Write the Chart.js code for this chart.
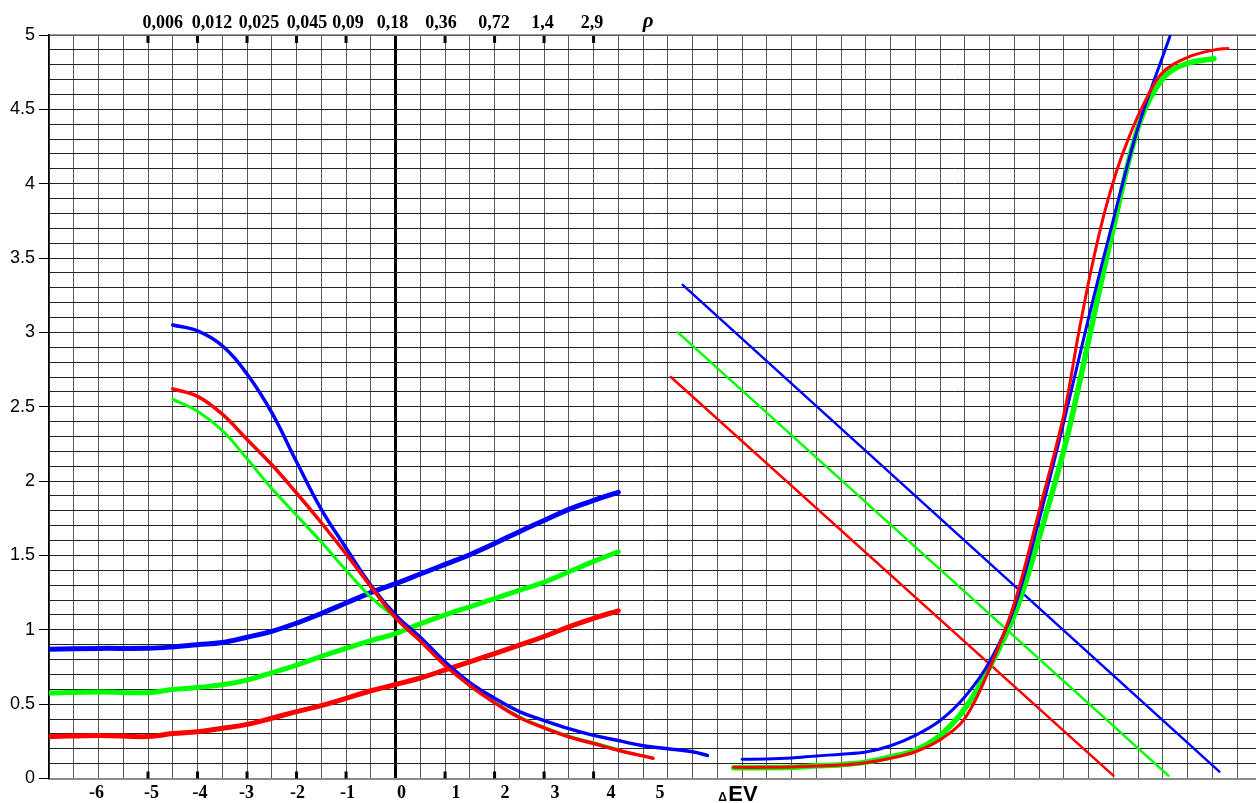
<!DOCTYPE html>
<html>
<head>
<meta charset="utf-8">
<title>ρ / ΔEV</title>
<script src="https://cdn.jsdelivr.net/npm/chart.js@4/dist/chart.umd.min.js"></script>
<style>
  html, body { margin: 0; padding: 0; background: #fff; }
  #wrap { width: 1256px; height: 803px; position: relative; }
</style>
</head>
<body>
<div id="wrap"><canvas id="chart"></canvas></div>
<script>
// --- Data ---

// rising curves (thick), left half
const riseX      = [-7, -6, -5, -4.5, -4, -3.5, -3, -2.5, -2, -1.5, -1, -0.5, 0, 0.5, 1, 1.5, 2, 2.5, 3, 3.5, 4, 4.5];
const blueRiseY  = [0.87, 0.875, 0.876, 0.885, 0.9, 0.915, 0.95, 0.99, 1.045, 1.11, 1.18, 1.25, 1.31, 1.375, 1.44, 1.505, 1.58, 1.66, 1.735, 1.81, 1.87, 1.925];
const greenRiseY = [0.575, 0.582, 0.577, 0.598, 0.612, 0.63, 0.662, 0.711, 0.763, 0.822, 0.875, 0.927, 0.975, 1.04, 1.1, 1.155, 1.21, 1.265, 1.32, 1.39, 1.46, 1.525];
const redRiseY   = [0.281, 0.29, 0.282, 0.302, 0.315, 0.338, 0.364, 0.405, 0.45, 0.49, 0.539, 0.59, 0.632, 0.676, 0.73, 0.785, 0.84, 0.897, 0.955, 1.02, 1.077, 1.128];

// falling curves, left half
const blueFallX  = [-4.5, -4, -3.5, -3, -2.5, -2, -1.5, -1, -0.5, 0, 0.5, 1, 1.5, 2, 2.5, 3, 3.5, 4, 4.5, 5, 5.5, 6, 6.3];
const blueFallY  = [3.05, 3.01, 2.91, 2.72, 2.46, 2.13, 1.81, 1.55, 1.3, 1.1, 0.95, 0.785, 0.645, 0.54, 0.45, 0.39, 0.335, 0.29, 0.255, 0.22, 0.2, 0.18, 0.155];
const redFallX   = [-4.5, -4, -3.5, -3, -2.5, -2, -1.5, -1, -0.5, 0, 0.5, 1, 1.5, 2, 2.5, 3, 3.5, 4, 4.5, 5.2];
const redFallY   = [2.62, 2.57, 2.45, 2.28, 2.11, 1.92, 1.72, 1.51, 1.29, 1.08, 0.925, 0.76, 0.625, 0.51, 0.41, 0.34, 0.28, 0.235, 0.19, 0.136];
const greenFallX = [-4.5, -4, -3.5, -3, -2.5, -2, -1.5, -1, -0.5, 0, 0.5, 1, 1.5, 2, 2.5, 3, 3.5, 4, 4.5];
const greenFallY = [2.55, 2.47, 2.34, 2.15, 1.95, 1.77, 1.59, 1.4, 1.22, 1.08, 0.93, 0.77, 0.63, 0.515, 0.415, 0.345, 0.285, 0.24, 0.195];

// steep S curves, right half
const blueSX  = [7.0, 7.5, 8.0, 8.5, 9.0, 9.5, 10.0, 10.5, 11.0, 11.5, 12.0, 12.5, 13.0, 13.5, 14.0, 14.5, 15.0, 15.64];
const blueSY  = [0.13, 0.131, 0.138, 0.152, 0.163, 0.178, 0.22, 0.29, 0.39, 0.55, 0.785, 1.15, 1.74, 2.4, 3.1, 3.76, 4.38, 4.99];
const redSX   = [6.83, 7.5, 8.0, 8.5, 9.0, 9.5, 10.0, 10.5, 11.0, 11.5, 12.0, 12.5, 13.0, 13.5, 13.8, 14.05, 14.3, 14.55, 14.8, 15.06, 15.47, 16.0, 16.54, 16.81];
const redSY   = [0.075, 0.075, 0.078, 0.084, 0.09, 0.106, 0.136, 0.18, 0.26, 0.405, 0.74, 1.18, 1.8, 2.45, 3.0, 3.42, 3.78, 4.07, 4.3, 4.5, 4.74, 4.85, 4.9, 4.91];
const greenSX = [6.83, 8.0, 8.5, 9.0, 9.5, 10.0, 10.5, 11.0, 11.5, 12.0, 12.5, 12.9, 13.5, 13.84, 14.02, 14.49, 15.03, 15.53, 16.0, 16.53];
const greenSY = [0.072, 0.075, 0.085, 0.093, 0.11, 0.145, 0.19, 0.29, 0.47, 0.75, 1.1, 1.51, 2.21, 2.7, 2.98, 3.69, 4.41, 4.72, 4.81, 4.84];

// straight diagonal lines, right half
const blueLineX  = [5.8, 16.64];
const blueLineY  = [3.32, 0.046];
const greenLineX = [5.7, 15.61];
const greenLineY = [3.0, 0.019];
const redLineX   = [5.56, 14.5];
const redLineY   = [2.7, 0.019];

// axis labels
const bottomLabels   = ['-6', '-5', '-4', '-3', '-2', '-1', '0', '1', '2', '3', '4', '5'];
const bottomLabelPos = [-6.04, -4.93, -3.95, -3.01, -1.98, -0.97, 0.12, 1.22, 2.21, 3.22, 4.35, 5.34];
const topLabels      = ['0,006', '0,012', '0,025', '0,045', '0,09', '0,18', '0,36', '0,72', '1,4', '2,9', 'ρ'];
const topLabelPos    = [-4.7, -3.71, -2.76, -1.79, -0.96, -0.06, 0.92, 1.99, 2.97, 3.97, 5.1];
const markPos        = [-5, -4, -3, -2, -1, 1, 2, 3, 4];

// --- Setup ---
const X_MIN = -7;
const X_MAX = 17.38;
const EV_AT = 6.52;

const pts = (xs, ys) => xs.map((x, i) => ({ x: x, y: ys[i] }));

function curve(label, xs, ys, color, width, tension) {
    return {
        label: label,
        data: pts(xs, ys),
        borderColor: color,
        backgroundColor: color,
        borderWidth: width,
        pointRadius: 0,
        pointHoverRadius: 0,
        fill: false,
        tension: tension,
        borderCapStyle: 'round',
        borderJoinStyle: 'round'
    };
}

const BLUE = '#0000ff';
const RED = '#ff0000';
const GREEN = '#00ff00';

const isHalf = v => Math.abs(v * 2 - Math.round(v * 2)) < 1e-6;

// small tick marks and the ΔEV caption
const extras = {
    id: 'extras',
    beforeDatasetsDraw(chart) {
        const { ctx, chartArea, scales } = chart;
        ctx.save();
        ctx.fillStyle = '#000';
        markPos.forEach(v => {
            const px = scales.x.getPixelForValue(v);
            ctx.fillRect(px - 1.5, chartArea.top + 1, 3, 7);
            ctx.fillRect(px - 1.5, chartArea.bottom - 7, 3, 7);
        });
        ctx.restore();
    },
    afterDraw(chart) {
        const { ctx, scales } = chart;
        const ax = scales.x.getPixelForValue(EV_AT);
        ctx.save();
        ctx.fillStyle = '#000';
        ctx.textBaseline = 'alphabetic';
        ctx.textAlign = 'left';
        ctx.font = 'bold 12px "Liberation Sans", Arial, sans-serif';
        ctx.fillText('Δ', ax, 801);
        ctx.font = 'bold 22px "Liberation Sans", Arial, sans-serif';
        ctx.fillText('EV', ax + 10, 801);
        ctx.restore();
    }
};

const serifFamily = '"Liberation Serif", "Times New Roman", serif';

new Chart(document.getElementById('chart'), {
    type: 'line',
    data: {
        datasets: [
            curve('red fall', redFallX, redFallY, RED, 3.5, 0.4),
            curve('blue fall', blueFallX, blueFallY, BLUE, 3.5, 0.4),
            curve('green fall', greenFallX, greenFallY, GREEN, 3, 0.4),
            curve('red rise', riseX, redRiseY, RED, 5, 0.4),
            curve('green rise', riseX, greenRiseY, GREEN, 5, 0.4),
            curve('blue rise', riseX, blueRiseY, BLUE, 5, 0.4),
            curve('red S', redSX, redSY, RED, 3, 0.35),
            curve('blue S', blueSX, blueSY, BLUE, 3, 0.35),
            curve('green S', greenSX, greenSY, GREEN, 5.5, 0.35),
            curve('blue line', blueLineX, blueLineY, BLUE, 2.5, 0),
            curve('green line', greenLineX, greenLineY, GREEN, 2.5, 0),
            curve('red line', redLineX, redLineY, RED, 2.5, 0)
        ]
    },
    options: {
        responsive: true,
        maintainAspectRatio: false,
        animation: false,
        layout: { padding: 0 },
        plugins: {
            legend: { display: false },
            tooltip: { enabled: false }
        },
        scales: {
            x: {
                type: 'linear',
                position: 'bottom',
                weight: 0,
                min: X_MIN,
                max: X_MAX,
                afterBuildTicks: s => {
                    const t = [];
                    for (let v = -7; v <= 17; v += 0.5) t.push({ value: v });
                    s.ticks = t;
                },
                afterFit: s => { s.height = 0; },
                ticks: { display: false },
                grid: {
                    drawTicks: false,
                    color: c => (c.tick && c.tick.value === 0) ? '#000' : '#5a5a5a',
                    lineWidth: c => (c.tick && c.tick.value === 0) ? 3 : 1
                },
                border: { color: '#8a8a8a', width: 2 }
            },
            xb: {
                type: 'linear',
                position: 'bottom',
                weight: 1,
                min: X_MIN,
                max: X_MAX,
                afterBuildTicks: s => { s.ticks = bottomLabelPos.map(v => ({ value: v })); },
                afterFit: s => { s.height = 24.5; },
                ticks: {
                    autoSkip: false,
                    maxRotation: 0,
                    minRotation: 0,
                    padding: 4,
                    color: '#000',
                    font: { family: serifFamily, size: 18, weight: 'bold' },
                    callback: (v, i) => bottomLabels[i]
                },
                grid: { display: false, drawTicks: false },
                border: { display: false }
            },
            xt: {
                type: 'linear',
                position: 'top',
                min: X_MIN,
                max: X_MAX,
                afterBuildTicks: s => { s.ticks = topLabelPos.map(v => ({ value: v })); },
                afterFit: s => { s.height = 35; },
                ticks: {
                    autoSkip: false,
                    maxRotation: 0,
                    minRotation: 0,
                    padding: 1,
                    color: '#000',
                    font: c => c.index === topLabels.length - 1
                        ? { family: serifFamily, size: 21, weight: 'bold', style: 'italic' }
                        : { family: serifFamily, size: 18, weight: 'bold' },
                    callback: (v, i) => topLabels[i]
                },
                grid: { display: false, drawTicks: false },
                border: { display: true, color: '#9a9a9a', width: 1.5 }
            },
            y: {
                type: 'linear',
                position: 'left',
                min: 0,
                max: 5,
                afterFit: s => { s.width = 49; },
                ticks: {
                    stepSize: 0.1,
                    autoSkip: false,
                    padding: 4,
                    color: '#000',
                    font: { family: '"Liberation Sans", Arial, sans-serif', size: 18 },
                    callback: v => isHalf(v) ? String(Math.round(v * 10) / 10) : ''
                },
                grid: {
                    color: c => (c.tick && c.tick.value === 0) ? '#8a8a8a' : '#222',
                    lineWidth: 1,
                    tickLength: 10,
                    tickColor: c => (c.tick && isHalf(c.tick.value)) ? '#000' : 'rgba(0,0,0,0)'
                },
                border: { color: '#000', width: 1.5 }
            }
        }
    },
    plugins: [extras]
});
</script>
</body>
</html>
